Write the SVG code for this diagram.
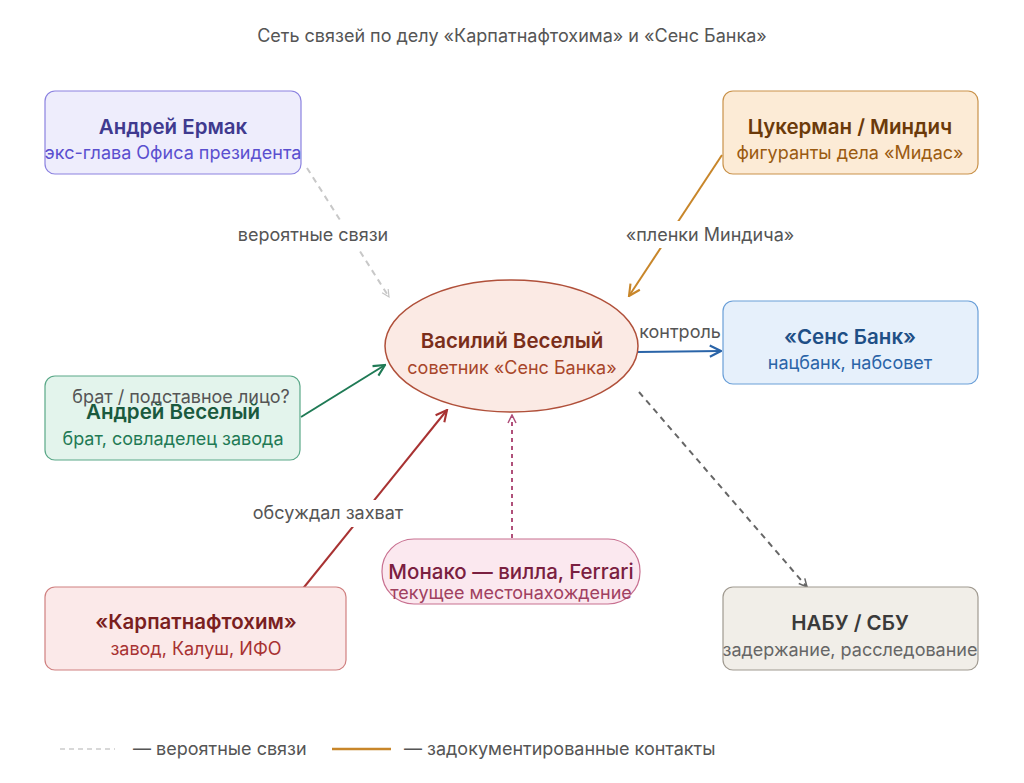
<svg xmlns="http://www.w3.org/2000/svg" width="1024" height="783" viewBox="0 0 1024 783">
<defs>
<style>
text{font-family:Inter,"Noto Sans","Liberation Sans",sans-serif;text-anchor:middle}
.t{font-size:20.5px;font-weight:600}
.s{font-size:18px}
.lbl{font-size:18px;fill:#555555}
.e{fill:none;stroke-width:2}
</style>
<marker id="aGray" viewBox="0 0 10 10" refX="9" refY="5" markerWidth="9" markerHeight="9" markerUnits="userSpaceOnUse" orient="auto"><path d="M1,1 L9,5 L1,9" fill="none" stroke="#c4c4c4" stroke-width="1.3"/></marker>
<marker id="aOr" viewBox="0 0 10 10" refX="9" refY="5" markerWidth="14" markerHeight="14" markerUnits="userSpaceOnUse" orient="auto"><path d="M1,1 L9,5 L1,9" fill="none" stroke="#c8862a" stroke-width="1.5"/></marker>
<marker id="aBl" viewBox="0 0 10 10" refX="9" refY="5" markerWidth="14" markerHeight="14" markerUnits="userSpaceOnUse" orient="auto"><path d="M1,1 L9,5 L1,9" fill="none" stroke="#2a64a8" stroke-width="1.5"/></marker>
<marker id="aGr" viewBox="0 0 10 10" refX="9" refY="5" markerWidth="14" markerHeight="14" markerUnits="userSpaceOnUse" orient="auto"><path d="M1,1 L9,5 L1,9" fill="none" stroke="#1f7a55" stroke-width="1.5"/></marker>
<marker id="aRd" viewBox="0 0 10 10" refX="9" refY="5" markerWidth="14" markerHeight="14" markerUnits="userSpaceOnUse" orient="auto"><path d="M1,1 L9,5 L1,9" fill="none" stroke="#a83232" stroke-width="1.5"/></marker>
<marker id="aPk" viewBox="0 0 10 10" refX="9" refY="5" markerWidth="10" markerHeight="10" markerUnits="userSpaceOnUse" orient="auto"><path d="M1,1 L9,5 L1,9" fill="none" stroke="#b0507a" stroke-width="1.5"/></marker>
<marker id="aDk" viewBox="0 0 10 10" refX="9" refY="5" markerWidth="10" markerHeight="10" markerUnits="userSpaceOnUse" orient="auto"><path d="M1,1 L9,5 L1,9" fill="none" stroke="#666666" stroke-width="1.5"/></marker>
</defs>
<rect width="1024" height="783" fill="#ffffff"/>
<text x="512" y="42" style="font-size:18px;fill:#555555">Сеть связей по делу «Карпатнафтохима» и «Сенс Банка»</text>

<g id="connectors">
<line class="e" x1="307" y1="168" x2="389" y2="297" stroke="#c8c8c8" stroke-width="1.5" stroke-dasharray="6,5" marker-end="url(#aGray)"/>
<line class="e" x1="722" y1="155" x2="629" y2="296" stroke="#c8862a" marker-end="url(#aOr)"/>
<line class="e" x1="638" y1="352" x2="721" y2="351" stroke="#2a64a8" marker-end="url(#aBl)"/>
<line class="e" x1="301" y1="417" x2="385" y2="365" stroke="#1f7a55" marker-end="url(#aGr)"/>
<line class="e" x1="301" y1="591" x2="447" y2="410" stroke="#a83232" marker-end="url(#aRd)"/>
<line class="e" x1="512" y1="538" x2="512" y2="415" stroke="#b0507a" stroke-width="1.5" stroke-dasharray="4,4" marker-end="url(#aPk)"/>
<line class="e" x1="639" y1="392" x2="807" y2="587" stroke="#666666" stroke-width="1.5" stroke-dasharray="6,5" marker-end="url(#aDk)"/>
<rect x="234" y="221" width="158" height="27" fill="#ffffff"/>
<text class="lbl" x="313" y="241">вероятные связи</text>
<rect x="620" y="221" width="180" height="27" fill="#ffffff"/>
<text class="lbl" x="710" y="241">«пленки Миндича»</text>
<text class="lbl" x="680" y="338">контроль</text>
<rect x="248" y="500" width="160" height="27" fill="#ffffff"/>
<text class="lbl" x="328" y="519">обсуждал захват</text>
</g>

<g id="n-ermak">
<rect x="45" y="91" width="256" height="83" rx="10" fill="#eeedfc" stroke="#8b82e0" stroke-width="1.2"/>
<text class="t" x="173" y="134" fill="#3f3a8f">Андрей Ермак</text>
<text class="s" x="173" y="159" fill="#5a4fcf">экс-глава Офиса президента</text>
</g>
<g id="n-tsukerman">
<rect x="723" y="91" width="255" height="83" rx="10" fill="#fcebd6" stroke="#c9924a" stroke-width="1.2"/>
<text class="t" x="850" y="134" fill="#6b3a0a">Цукерман / Миндич</text>
<text class="s" x="850" y="159" fill="#9a5a10">фигуранты дела «Мидас»</text>
</g>
<g id="n-sens">
<rect x="723" y="301" width="255" height="83" rx="10" fill="#e6f0fb" stroke="#6a9fd8" stroke-width="1.2"/>
<text class="t" x="850" y="344" fill="#1f4f86">«Сенс Банк»</text>
<text class="s" x="850" y="369" fill="#2a64a8">нацбанк, набсовет</text>
</g>
<g id="n-andrey">
<rect x="45" y="376" width="255" height="84" rx="10" fill="#e3f4ec" stroke="#5aa888" stroke-width="1.2"/>
<text class="t" x="173" y="419" fill="#1a5a3e">Андрей Веселый</text>
<text class="s" x="173" y="445" fill="#1f7a55">брат, совладелец завода</text>
</g>
<text class="lbl" x="181" y="403">брат / подставное лицо?</text>
<g id="n-karpat">
<rect x="45" y="587" width="301" height="83" rx="10" fill="#fbe9e9" stroke="#d08080" stroke-width="1.2"/>
<text class="t" x="196" y="629" fill="#7a1f1f">«Карпатнафтохим»</text>
<text class="s" x="196" y="655" fill="#a83232">завод, Калуш, ИФО</text>
</g>
<g id="n-monaco">
<rect x="382" y="539" width="258" height="65" rx="32" fill="#fbe8ef" stroke="#c87090" stroke-width="1.2"/>
<text x="511" y="579" style="font-size:20.5px;font-weight:500" fill="#7a2040">Монако — вилла, Ferrari</text>
<text class="s" x="511" y="599" fill="#a04060">текущее местонахождение</text>
</g>
<g id="n-nabu">
<rect x="723" y="587" width="255" height="83" rx="10" fill="#f1eee8" stroke="#a09a90" stroke-width="1.2"/>
<text class="t" x="850" y="630" fill="#3a3a3a">НАБУ / СБУ</text>
<text class="s" x="850" y="656" fill="#666666">задержание, расследование</text>
</g>
<g id="n-vasily">
<ellipse cx="511.5" cy="346" rx="126.5" ry="66" fill="#fbeae4" stroke="#b0503a" stroke-width="1.5"/>
<text class="t" x="512" y="348" fill="#7a2e1a">Василий Веселый</text>
<text class="s" x="512" y="374" fill="#a8462a">советник «Сенс Банка»</text>
</g>

<g id="legend">
<line x1="60" y1="749" x2="115" y2="749" stroke="#cccccc" stroke-width="1.5" stroke-dasharray="5,4"/>
<text class="lbl" x="133" y="755" style="text-anchor:start">— вероятные связи</text>
<line x1="332" y1="749" x2="391" y2="749" stroke="#c8862a" stroke-width="2.5"/>
<text class="lbl" x="404" y="755" style="text-anchor:start">— задокументированные контакты</text>
</g>
</svg>
